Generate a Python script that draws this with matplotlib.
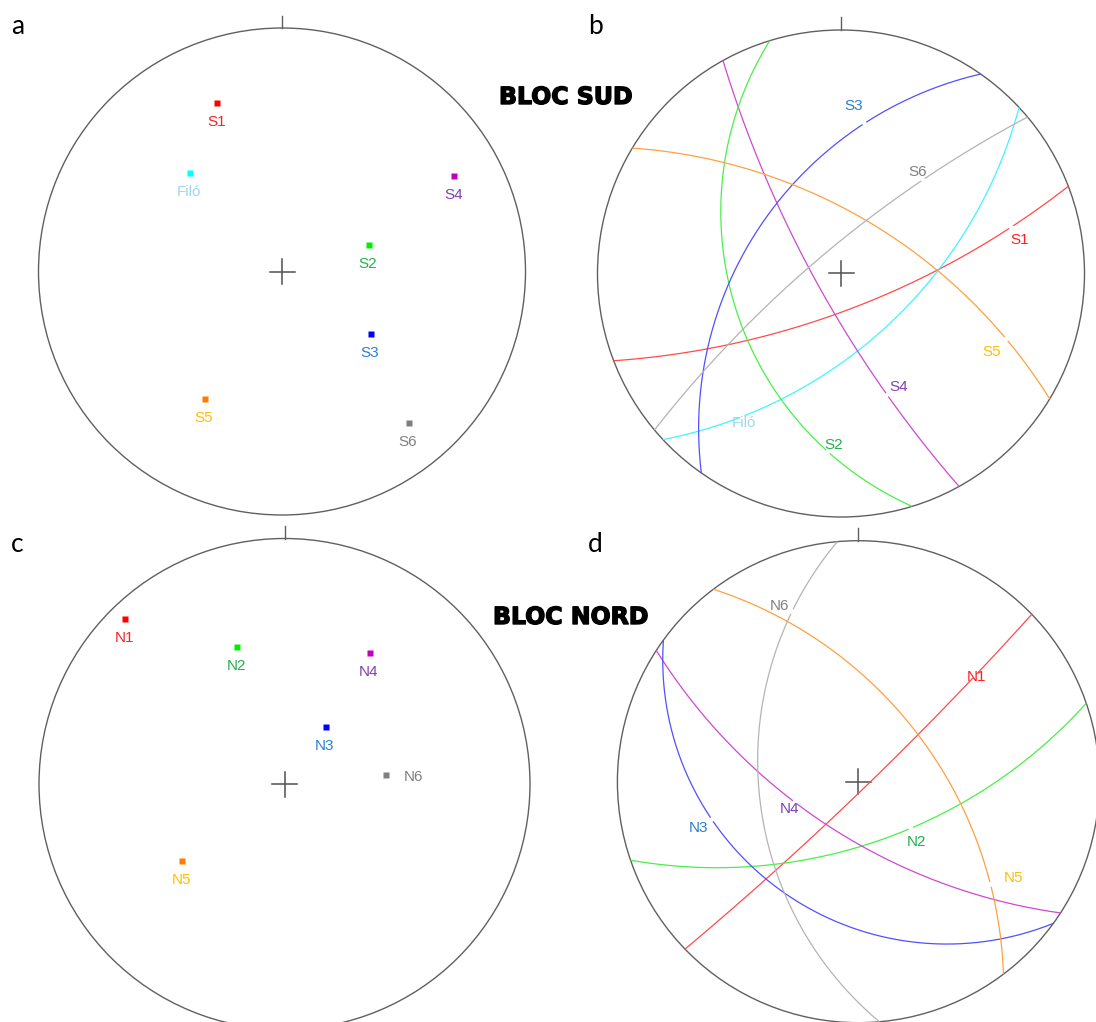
import numpy as np
import matplotlib
matplotlib.use("Agg")
import matplotlib.pyplot as plt
import matplotlib.patheffects as pe
from matplotlib.patches import Circle

W, H, DPI = 1096, 1022, 100

# Poles to fracture planes, lower hemisphere (trend, plunge in degrees)
sud_names = ["S1", "Filó", "S4", "S2", "S3", "S5", "S6"]
sud_trend = [339, 317, 61, 73, 125, 211, 140]
sud_plunge = [17, 32, 12, 49, 42, 27, 12]

nord_names = ["N1", "N2", "N4", "N3", "N6", "N5"]
nord_trend = [316, 341, 33, 36, 85, 233]
nord_plunge = [4, 29, 25, 58, 45, 35]

# Colour scheme shared by the two blocks (keyed by family number)
POINT_COL = {"1": "#ff0000", "2": "#00ee00", "3": "#0000ff", "4": "#c000c0",
             "5": "#ff7a00", "6": "#7f7f7f", "Filó": "#00ffff"}
LINE_COL = {"1": "#ff4a4a", "2": "#48f048", "3": "#5050ff", "4": "#d048d0",
            "5": "#ffa040", "6": "#b4b4b4", "Filó": "#40f4ff"}
TEXT_COL = {"1": "#ff2020", "2": "#22b14c", "3": "#2a7fd4", "4": "#7f40b0",
            "5": "#ffc000", "6": "#808080", "Filó": "#a0d8ea"}


def key(name):
    return name if name == "Filó" else name[1:]


# Layout: panel centre and radius in pixels (y from the top)
PANELS = {
    "a": (282.0, 271.5, 243.5),
    "b": (841.0, 273.5, 243.5),
    "c": (284.5, 784.0, 245.5),
    "d": (858.4, 781.7, 241.0),
}
# Great-circle label positions (in units of the net radius)
ARC_LABELS = {
    "S1": (0.734, 0.138), "Filó": (-0.397, -0.613), "S4": (0.237, -0.465),
    "S2": (-0.029, -0.704), "S3": (0.050, 0.688), "S5": (0.617, -0.321),
    "S6": (0.314, 0.417),
    "N1": (0.489, 0.436), "N2": (0.242, -0.249), "N3": (-0.664, -0.193),
    "N4": (-0.287, -0.115), "N5": (0.645, -0.401), "N6": (-0.328, 0.730),
}
POLE_OFFSET = {"N6": (28, -1.5)}

LABEL_FONT = dict(family=["Liberation Sans", "DejaVu Sans"], size=11)


def wulff(trend, plunge):
    """Equal-angle (Wulff) projection of lines, lower hemisphere."""
    t = np.radians(trend)
    r = np.tan(np.radians(90.0 - np.asarray(plunge, float)) / 2.0)
    return r * np.sin(t), r * np.cos(t)


def great_circle(pole_trend, pole_plunge, n=721):
    dipdir = np.radians(pole_trend + 180.0)
    dip = np.radians(90.0 - pole_plunge)
    strike = dipdir - np.pi / 2
    sv = np.array([np.cos(strike), np.sin(strike), 0.0])
    dv = np.array([np.cos(dip) * np.cos(dipdir), np.cos(dip) * np.sin(dipdir), np.sin(dip)])
    a = np.linspace(0, np.pi, n)
    v = np.outer(np.cos(a), sv) + np.outer(np.sin(a), dv)
    plunge = np.degrees(np.arcsin(np.clip(v[:, 2], -1, 1)))
    trend = np.degrees(np.arctan2(v[:, 1], v[:, 0]))
    return wulff(trend, plunge)


fig = plt.figure(figsize=(W / DPI, H / DPI), dpi=DPI)
fig.patch.set_facecolor("white")


def make_net(letter):
    cx, cy, R = PANELS[letter]
    k = 1.12
    ax = fig.add_axes([(cx - k * R) / W, (H - cy - k * R) / H, 2 * k * R / W, 2 * k * R / H])
    ax.set_xlim(-k, k)
    ax.set_ylim(-k, k)
    ax.axis("off")
    ax.add_patch(Circle((0, 0), 1.0, fill=False, ec="#606060", lw=1.0, clip_on=False))
    ax.plot([0, 0], [1.0, 1.0 + 12.5 / R], color="#606060", lw=1.0, clip_on=False)
    c = 12.5 / R
    ax.plot([-c, c], [0, 0], color="#505050", lw=1.1, clip_on=False)
    ax.plot([0, 0], [-c, c], color="#505050", lw=1.1, clip_on=False)
    return ax, R


def draw_poles(letter, names, trend, plunge):
    ax, R = make_net(letter)
    xs, ys = wulff(np.array(trend), np.array(plunge))
    for name, x, y in zip(names, xs, ys):
        k = key(name)
        ax.plot(x, y, "s", ms=3.8, mec="none", color=POINT_COL[k], clip_on=False)
        off = POLE_OFFSET.get(name, (-1, -19))
        ax.annotate(name, (x, y), xytext=off, textcoords="offset pixels",
                    ha="center", va="center", color=TEXT_COL[k], **LABEL_FONT)


def draw_planes(letter, names, trend, plunge):
    ax, R = make_net(letter)
    gap = 4.0 / R
    for name, t, p in zip(names, trend, plunge):
        k = key(name)
        x, y = great_circle(t, p)
        lx, ly = ARC_LABELS[name]
        s = np.concatenate([[0], np.cumsum(np.hypot(np.diff(x), np.diff(y)))])
        i = np.argmin(np.hypot(x - lx, y - ly))
        keep_a = s < s[i] - gap / 2
        keep_b = s > s[i] + gap / 2
        for m in (keep_a, keep_b):
            ax.plot(x[m], y[m], color=LINE_COL[k], lw=0.9, clip_on=False,
                    solid_capstyle="butt")
        ax.text(lx, ly, name, ha="center", va="center", color=TEXT_COL[k], **LABEL_FONT)


draw_poles("a", sud_names, sud_trend, sud_plunge)
draw_planes("b", sud_names, sud_trend, sud_plunge)
draw_poles("c", nord_names, nord_trend, nord_plunge)
draw_planes("d", nord_names, nord_trend, nord_plunge)

# Panel letters
for letter, (px, py) in {"a": (17.5, 34), "b": (595.2, 34),
                         "c": (17.5, 551.5), "d": (595.2, 552.5)}.items():
    fig.text(px / W, 1 - py / H, letter, ha="center", va="baseline",
             family=["Lato", "DejaVu Sans"], size=19, color="black")

# Block titles
heavy = [pe.withStroke(linewidth=1.0, foreground="black")]
fig.text(499 / W, 1 - 104 / H, "BLOC SUD", ha="left", va="baseline",
         family="DejaVu Sans", weight="bold", size=17, color="black", path_effects=heavy)
fig.text(493 / W, 1 - 624 / H, "BLOC NORD", ha="left", va="baseline",
         family="DejaVu Sans", weight="bold", size=17, color="black", path_effects=heavy)

fig.savefig("out.png", dpi=DPI, facecolor="white")
